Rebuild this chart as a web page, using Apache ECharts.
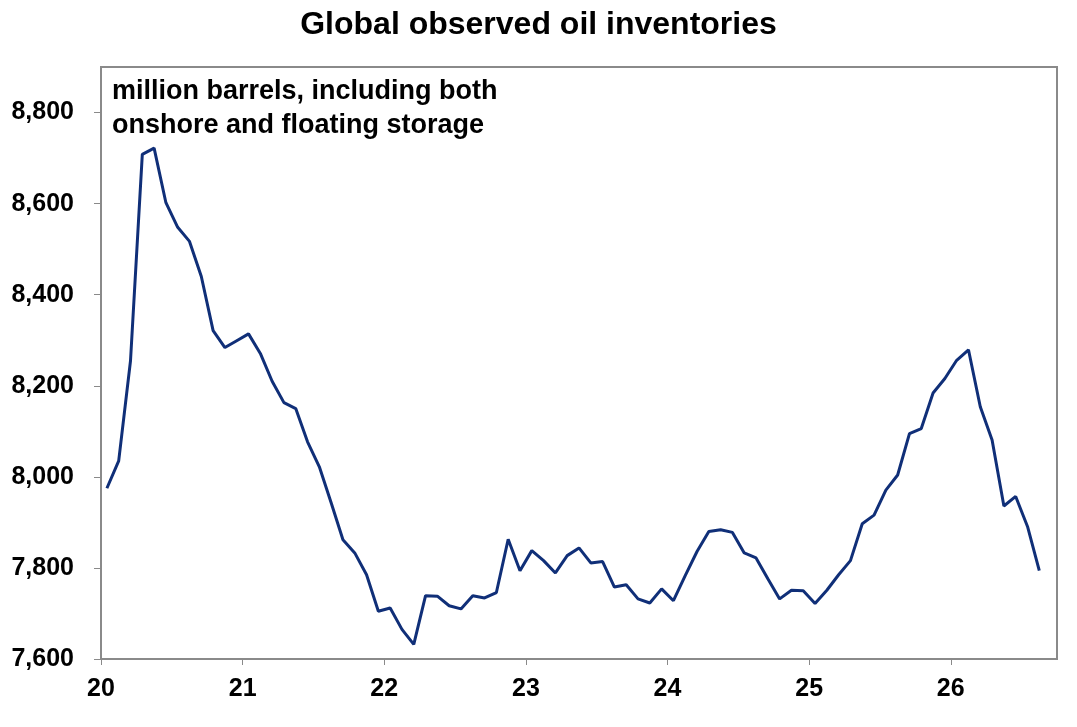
<!DOCTYPE html>
<html>
<head>
<meta charset="utf-8">
<script src="https://cdn.jsdelivr.net/npm/echarts@6/dist/echarts.min.js"></script>
<style>
  html, body { margin: 0; padding: 0; background: #fff; }
  #chart { width: 1077px; height: 727px; }
</style>
</head>
<body>
<div id="chart"></div>
<script>
// monthly, Jan 2020 onwards (million barrels)
const inventories = [
  7975, 8035, 8255, 8708, 8722, 8602, 8548, 8517, 8440, 8321, 8284, 8299,
  8314, 8271, 8210, 8163, 8150, 8077, 8022, 7943, 7862, 7833, 7785, 7705,
  7712, 7665, 7632, 7739, 7738, 7717, 7710, 7739, 7734, 7746, 7863, 7794,
  7838, 7816, 7789, 7827, 7844, 7811, 7814, 7758, 7763, 7732, 7723, 7754,
  7728, 7783, 7836, 7880, 7884, 7878, 7833, 7822, 7776, 7732, 7751, 7750,
  7722, 7751, 7785, 7816, 7897, 7916, 7971, 8004, 8095, 8106, 8184, 8216,
  8256, 8279, 8154, 8081, 7936, 7957, 7891, 7794
]
const yearLabels = ['20', '21', '22', '23', '24', '25', '26']
const yTicks = [7600, 7800, 8000, 8200, 8400, 8600, 8800]

const FONT = 'Liberation Sans, Arial, sans-serif'
const GREY = '#8a8a8a'

// x in months since Jan 2020, plotted mid-month
const points = inventories.map((v, i) => [i + 0.5, v])
const xTicks = yearLabels.map((_, i) => i * 12)

const chart = echarts.init(document.getElementById('chart'))
chart.setOption({
  animation: false,
  backgroundColor: '#fff',
  title: {
    text: 'Global observed oil inventories',
    left: 'center',
    top: 4,
    textStyle: { fontFamily: FONT, fontSize: 32, fontWeight: 'bold', color: '#000' }
  },
  graphic: [{
    type: 'text',
    left: 112,
    top: 75,
    style: {
      text: 'million barrels, including both\nonshore and floating storage',
      font: 'bold 27px ' + FONT,
      lineHeight: 34,
      fill: '#000'
    }
  }],
  grid: {
    left: 101, right: 20, top: 67, bottom: 68,
    show: true, borderColor: GREY, borderWidth: 2
  },
  xAxis: {
    type: 'value',
    min: 0, max: 81, interval: 12,
    splitLine: { show: false },
    axisLine: { lineStyle: { color: GREY, width: 2 } },
    axisTick: { customValues: xTicks, length: 6, lineStyle: { color: GREY, width: 1 } },
    axisLabel: {
      customValues: xTicks,
      formatter: (v) => yearLabels[Math.round(v / 12)],
      margin: 18,
      fontFamily: FONT, fontSize: 25, fontWeight: 'bold', color: '#000'
    }
  },
  yAxis: {
    type: 'value',
    min: 7600, max: 8900, interval: 200,
    splitLine: { show: false },
    axisLine: { show: true, lineStyle: { color: GREY, width: 2 } },
    axisTick: { show: true, customValues: yTicks, length: 7, lineStyle: { color: GREY, width: 1 } },
    axisLabel: {
      customValues: yTicks,
      formatter: (v) => v.toLocaleString('en-US'),
      margin: 27,
      fontFamily: FONT, fontSize: 25, fontWeight: 'bold', color: '#000'
    }
  },
  series: [{
    type: 'line',
    data: points,
    showSymbol: false,
    lineStyle: { color: '#102f78', width: 3 }
  }]
})
</script>
</body>
</html>
